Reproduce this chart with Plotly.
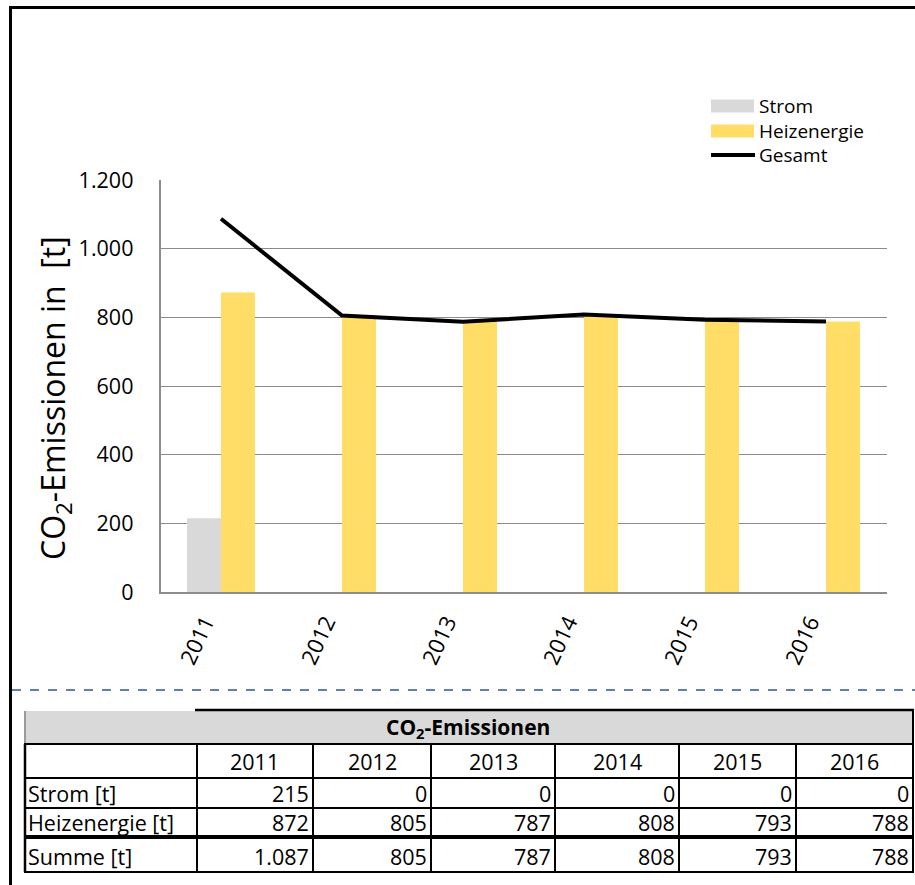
import plotly.graph_objects as go

years = ["2011", "2012", "2013", "2014", "2015", "2016"]
strom = [215, 0, 0, 0, 0, 0]
heizenergie = [872, 805, 787, 808, 793, 788]
gesamt = [s + h for s, h in zip(strom, heizenergie)]
y_ticks = [0, 200, 400, 600, 800, 1000, 1200]
row_labels = ["Strom [t]", "Heizenergie [t]", "Summe [t]"]
table_title = "CO<sub>2</sub>-Emissionen"

W, H = 915, 885
FONT = "Open Sans"


def px(x):
    return x / W


def py(y):
    return 1 - y / H


def fmt(v):
    return f"{v:,}".replace(",", ".")


fig = go.Figure()
fig.add_trace(go.Bar(x=years, y=strom, name="Strom", marker=dict(color="#D9D9D9", line=dict(width=0))))
fig.add_trace(go.Bar(x=years, y=heizenergie, name="Heizenergie", marker=dict(color="#FFDD66", line=dict(width=0))))
fig.add_trace(go.Scatter(x=years, y=gesamt, name="Gesamt", mode="lines", line=dict(color="black", width=4)))

shapes = []
annotations = []

# outer frame
shapes.append(dict(type="line", xref="paper", yref="paper", x0=px(9), x1=px(915), y0=py(7.5), y1=py(7.5),
                   line=dict(color="black", width=3)))
shapes.append(dict(type="line", xref="paper", yref="paper", x0=px(10.5), x1=px(10.5), y0=py(6), y1=py(885),
                   line=dict(color="black", width=3)))
# dashed separator
shapes.append(dict(type="line", xref="paper", yref="paper", x0=px(12), x1=px(915), y0=py(690), y1=py(690),
                   line=dict(color="#2F5597", width=1.5, dash="dash")))

# legend (manual)
leg_items = [("Strom", "#D9D9D9", "box", 106), ("Heizenergie", "#FFDD66", "box", 131), ("Gesamt", "black", "line", 155)]
for name, col, kind, yc in leg_items:
    if kind == "box":
        shapes.append(dict(type="rect", xref="paper", yref="paper", x0=px(711), x1=px(754), y0=py(yc - 6.5), y1=py(yc + 6.5),
                           fillcolor=col, line=dict(width=0)))
    else:
        shapes.append(dict(type="line", xref="paper", yref="paper", x0=px(711), x1=px(755), y0=py(yc), y1=py(yc),
                           line=dict(color=col, width=4)))
    annotations.append(dict(xref="paper", yref="paper", x=px(757), y=py(yc), text=name, showarrow=False,
                            xanchor="left", yanchor="middle", font=dict(family=FONT, size=19, color="black")))

# y-axis title
annotations.append(dict(xref="paper", yref="paper", x=px(55), y=py(398), text="CO<sub>2</sub>-Emissionen in  [t]",
                        textangle=-90, showarrow=False, xanchor="center", yanchor="middle",
                        font=dict(family=FONT, size=32, color="black")))

# table
col_x = [25, 197, 313, 431, 555, 679, 796, 913]
hdr_top, hdr_bot = 710, 744
row_y = [744, 778, 808, 837, 872]

shapes.append(dict(type="rect", xref="paper", yref="paper", x0=px(25), x1=px(913), y0=py(hdr_bot), y1=py(hdr_top + 1),
                   fillcolor="#D9D9D9", line=dict(width=0)))
shapes.append(dict(type="line", xref="paper", yref="paper", x0=px(195), x1=px(914), y0=py(hdr_top), y1=py(hdr_top),
                   line=dict(color="black", width=2.5)))
shapes.append(dict(type="line", xref="paper", yref="paper", x0=px(25), x1=px(25), y0=py(hdr_top + 1), y1=py(hdr_bot),
                   line=dict(color="#9A9A9A", width=2)))
shapes.append(dict(type="line", xref="paper", yref="paper", x0=px(25), x1=px(25), y0=py(hdr_bot), y1=py(row_y[-1]),
                   line=dict(color="black", width=2.5)))
shapes.append(dict(type="line", xref="paper", yref="paper", x0=px(913), x1=px(913), y0=py(hdr_top), y1=py(row_y[-1]),
                   line=dict(color="black", width=2)))
for i, yv in enumerate(row_y):
    w = 4 if i == 3 else 2
    shapes.append(dict(type="line", xref="paper", yref="paper", x0=px(24), x1=px(914), y0=py(yv), y1=py(yv),
                       line=dict(color="black", width=w)))
for xv in col_x[1:-1]:
    shapes.append(dict(type="line", xref="paper", yref="paper", x0=px(xv), x1=px(xv), y0=py(hdr_bot), y1=py(row_y[-1]),
                       line=dict(color="black", width=2)))

annotations.append(dict(xref="paper", yref="paper", x=px(468), y=py(728), text="<b>" + table_title + "</b>",
                        showarrow=False, xanchor="center", yanchor="middle",
                        font=dict(family=FONT, size=21, color="black")))
TF = dict(family=FONT, size=21.5, color="black")
for j, yr in enumerate(years):
    annotations.append(dict(xref="paper", yref="paper", x=px((col_x[j + 1] + col_x[j + 2]) / 2), y=py(761), text=yr,
                            showarrow=False, xanchor="center", yanchor="middle", font=TF))
rows = [strom, heizenergie, gesamt]
for r, (lab, vals) in enumerate(zip(row_labels, rows)):
    yc = (row_y[r + 1] + row_y[r + 2]) / 2 + (1.5 if r == 2 else 0)
    annotations.append(dict(xref="paper", yref="paper", x=px(26), y=py(yc), text=lab, showarrow=False,
                            xanchor="left", yanchor="middle", font=TF))
    for j, v in enumerate(vals):
        annotations.append(dict(xref="paper", yref="paper", x=px(col_x[j + 2] - 2), y=py(yc), text=fmt(v),
                                showarrow=False, xanchor="right", yanchor="middle", font=TF))

fig.update_layout(
    width=W, height=H,
    margin=dict(l=0, r=0, t=0, b=0),
    paper_bgcolor="white", plot_bgcolor="white",
    barmode="group", bargap=0.438, bargroupgap=0,
    showlegend=False,
    separators=",.",
    font=dict(family=FONT, color="black"),
    shapes=shapes, annotations=annotations,
    xaxis=dict(domain=[px(160.5), px(886.5)], showgrid=False, showline=True, linecolor="#8C8C8C", linewidth=1.5,
               ticks="", tickangle=-65, tickfont=dict(family=FONT, size=22, color="black"),
               ticklabelstandoff=7, ticklabelshift=-16, automargin=False),
    yaxis=dict(domain=[py(592), py(180)], range=[0, 1200], tickvals=y_ticks, tickformat=",d",
               showgrid=True, gridcolor="#8C8C8C", gridwidth=1, zeroline=False,
               showline=True, linecolor="#8C8C8C", linewidth=1.5, ticks="",
               tickfont=dict(family=FONT, size=21.5, color="black"), ticklabelstandoff=21, automargin=False),
)

fig.write_html("out.html", config={"displayModeBar": False},
               post_script="document.body.style.margin='0';document.body.style.overflow='hidden';")
